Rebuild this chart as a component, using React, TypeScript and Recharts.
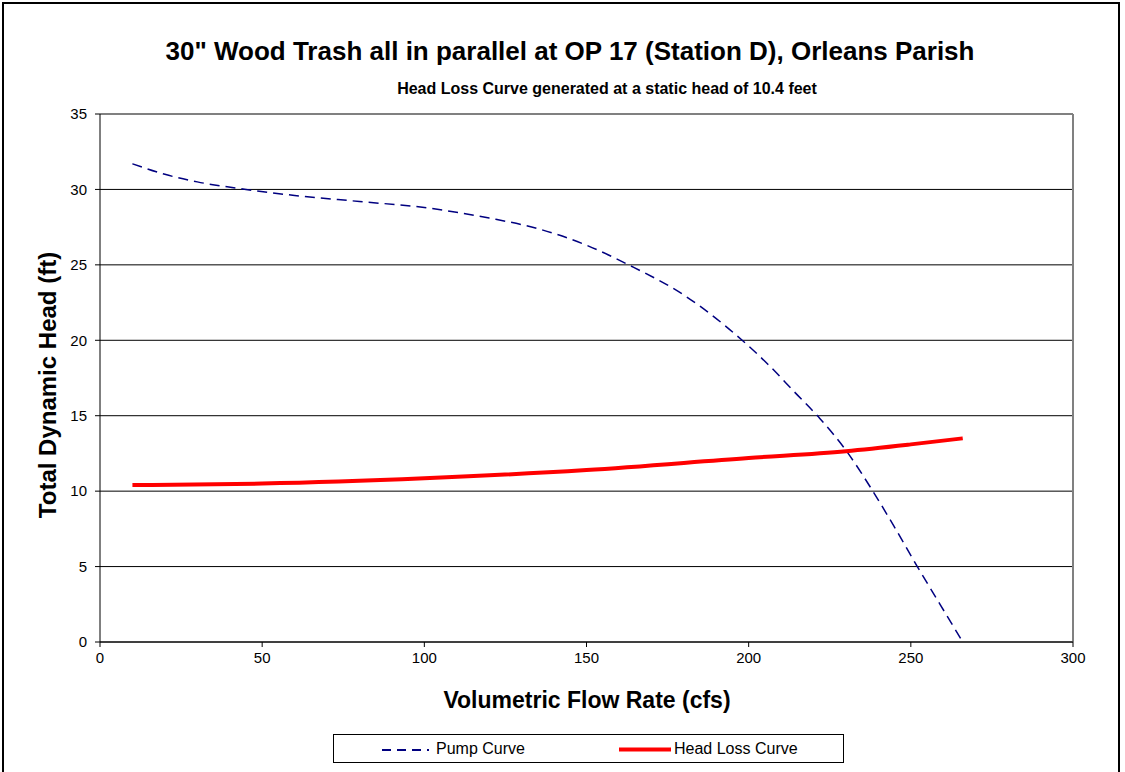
import React from "react";
import { LineChart, Line, XAxis, YAxis, CartesianGrid, ReferenceLine } from "recharts";

const pumpFlow = [10, 20, 30, 45, 60, 80, 100, 120, 135, 150, 163, 180, 198, 206, 214, 222, 230, 238, 245, 252, 259, 266];
const pumpHead = [31.7, 31.0, 30.5, 30.0, 29.6, 29.2, 28.8, 28.1, 27.4, 26.3, 25.0, 23.0, 20.0, 18.4, 16.6, 14.8, 12.7, 10.1, 7.6, 5.0, 2.5, 0.0];

const lossFlow = [10, 50, 100, 150, 200, 230, 250, 266];
const lossHead = [10.4, 10.5, 10.85, 11.4, 12.2, 12.65, 13.1, 13.5];

const xTicks = [0, 50, 100, 150, 200, 250, 300];
const yTicks = [0, 5, 10, 15, 20, 25, 30, 35];

const pumpData = pumpFlow.map((x, i) => ({ x, pump: pumpHead[i] }));
const lossData = lossFlow.map((x, i) => ({ x, loss: lossHead[i] }));

const FONT = "Arial, 'Liberation Sans', sans-serif";

export default function App() {
  return (
    <div style={{ position: "absolute", left: 0, top: 0, width: 1125, height: 772, overflow: "hidden", background: "#fff", fontFamily: FONT }}>
      <div style={{ position: "absolute", left: 2, top: 2, width: 1118, height: 800, border: "2px solid #000", boxSizing: "border-box" }} />
      <div style={{ position: "absolute", left: 0, top: 0 }}>
        <LineChart width={1125} height={772} margin={{ top: 114, right: 52, bottom: 100, left: 40 }}>
          <CartesianGrid horizontal={true} vertical={false} stroke="#000" strokeOpacity={1} />
          <XAxis
            type="number"
            dataKey="x"
            domain={[0, 300]}
            ticks={xTicks}
            height={30}
            allowDuplicatedCategory={false}
            axisLine={{ stroke: "#000", strokeWidth: 1 }}
            tickLine={{ stroke: "#000" }}
            tickSize={5}
            tickMargin={5}
            tick={{ fill: "#000", fontSize: 15, fontFamily: FONT }}
          />
          <YAxis
            type="number"
            domain={[0, 35]}
            ticks={yTicks}
            width={60}
            axisLine={{ stroke: "#000", strokeWidth: 1 }}
            tickLine={{ stroke: "#000" }}
            tickSize={5}
            tickMargin={8}
            tick={{ fill: "#000", fontSize: 15, fontFamily: FONT }}
          />
          <ReferenceLine y={35} stroke="#808080" strokeWidth={2} />
          <ReferenceLine x={300} stroke="#808080" strokeWidth={2} />
          <Line
            data={pumpData}
            dataKey="pump"
            type="monotone"
            stroke="#000080"
            strokeWidth={1.5}
            strokeDasharray="10 6"
            dot={false}
            isAnimationActive={false}
          />
          <Line
            data={lossData}
            dataKey="loss"
            type="monotone"
            stroke="#FF0000"
            strokeWidth={4}
            dot={false}
            isAnimationActive={false}
          />
        </LineChart>
      </div>
      <div style={{ position: "absolute", left: 0, width: 1140, top: 35, textAlign: "center", fontWeight: "bold", fontSize: 26, lineHeight: "32px", whiteSpace: "nowrap" }}>
        30" Wood Trash all in parallel at OP 17 (Station D), Orleans Parish
      </div>
      <div style={{ position: "absolute", left: 0, width: 1214, top: 79, textAlign: "center", fontWeight: "bold", fontSize: 16, lineHeight: "20px", whiteSpace: "nowrap" }}>
        Head Loss Curve generated at a static head of 10.4 feet
      </div>
      <div style={{ position: "absolute", left: 0, width: 1174, top: 686, textAlign: "center", fontWeight: "bold", fontSize: 23, lineHeight: "28px", whiteSpace: "nowrap" }}>
        Volumetric Flow Rate (cfs)
      </div>
      <div style={{ position: "absolute", left: 48, top: 385, width: 0, height: 0 }}>
        <div style={{ position: "absolute", left: -200, top: -14, width: 400, textAlign: "center", transform: "rotate(-90deg)", fontWeight: "bold", fontSize: 24, lineHeight: "28px", whiteSpace: "nowrap" }}>
          Total Dynamic Head (ft)
        </div>
      </div>
      <div style={{ position: "absolute", left: 333, top: 734, width: 511, height: 29, border: "1px solid #000", boxSizing: "border-box" }}>
        <svg style={{ position: "absolute", left: 48, top: 13 }} width={50} height={4}>
          <line x1={0} y1={2} x2={47} y2={2} stroke="#000080" strokeWidth={2} strokeDasharray="9 6" />
        </svg>
        <div style={{ position: "absolute", left: 102, top: 4, fontSize: 16, lineHeight: "20px", whiteSpace: "nowrap" }}>Pump Curve</div>
        <svg style={{ position: "absolute", left: 285, top: 12 }} width={52} height={5}>
          <line x1={0} y1={2.5} x2={52} y2={2.5} stroke="#FF0000" strokeWidth={4} />
        </svg>
        <div style={{ position: "absolute", left: 340, top: 4, fontSize: 16, lineHeight: "20px", whiteSpace: "nowrap" }}>Head Loss Curve</div>
      </div>
    </div>
  );
}
